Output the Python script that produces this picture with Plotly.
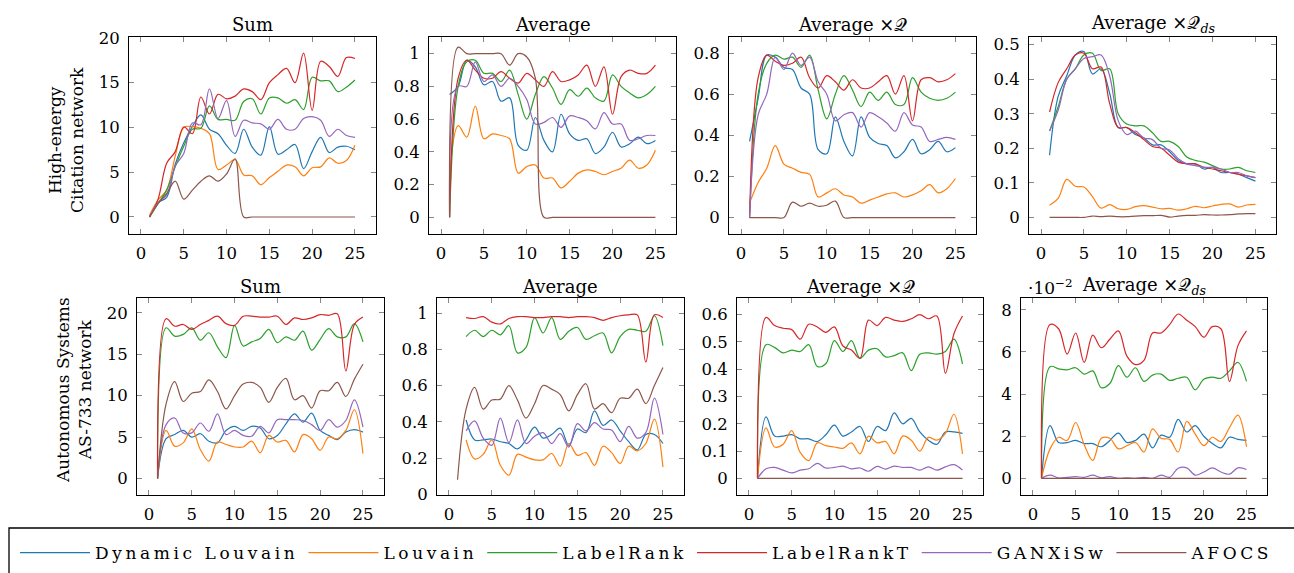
import plotly.graph_objects as go

W, H = 1294, 573
X = list(range(1, 26))
Z = [0] * 25

SERIES = ["Dynamic Louvain", "Louvain", "LabelRank", "LabelRankT", "GANXiSw", "AFOCS"]
COLORS = ["#1f77b4", "#ff7f0e", "#2ca02c", "#d62728", "#9467bd", "#8c564b"]

# ---------------- High-energy Citation network ----------------
HE_SUM_DL = [0, 1.6, 2.2, 5.9, 8.3, 10.1, 11.4, 9.8, 9.3, 8.0, 7.1, 9.8, 7.8, 6.9, 10.1, 7.0, 7.5, 8.1, 5.4, 7.3, 8.9, 7.2, 7.8, 7.9, 7.5]
HE_SUM_LV = [0.2, 1.9, 3.0, 6.8, 10.0, 10.1, 9.9, 9.3, 5.3, 5.8, 6.4, 4.7, 4.6, 3.6, 4.4, 5.1, 5.8, 5.6, 4.6, 5.5, 5.6, 6.6, 6.0, 6.3, 8.0]
HE_SUM_LR = [0, 1.5, 3.0, 5.6, 7.9, 9.8, 9.9, 12.4, 10.9, 10.9, 10.8, 12.9, 13.2, 11.5, 13.3, 13.3, 12.7, 13.1, 12.0, 15.6, 15.2, 15.2, 14.0, 14.5, 15.3]
HE_SUM_LRT = [0, 2.0, 6.0, 7.3, 10.05, 9.3, 13.4, 11.5, 13.7, 13.2, 13.5, 14.3, 14.0, 13.1, 15.0, 15.9, 16.6, 15.0, 18.3, 11.9, 17.4, 16.8, 15.7, 17.8, 17.7]
HE_SUM_GX = [0, 1.6, 2.5, 5.7, 7.1, 10.5, 10.3, 14.3, 11.0, 13.0, 9.0, 10.8, 10.5, 10.4, 9.8, 10.9, 9.8, 9.8, 11.0, 11.2, 10.8, 9.0, 9.8, 9.1, 8.9]
HE_SUM_AF = [0, 1.5, 2.6, 4.0, 2.0, 3.0, 4.0, 4.6, 4.0, 4.8, 6.5, 0, 0, 0, 0, 0, 0, 0, 0, 0, 0, 0, 0, 0, 0]

HE_AVG_DL = [0.75, 0.80, 0.96, 0.92, 0.81, 0.83, 0.71, 0.73, 0.44, 0.41, 0.61, 0.47, 0.40, 0.63, 0.51, 0.47, 0.48, 0.39, 0.43, 0.52, 0.43, 0.45, 0.49, 0.45, 0.47]
HE_AVG_LV = [0.25, 0.56, 0.49, 0.68, 0.48, 0.51, 0.50, 0.48, 0.27, 0.31, 0.32, 0.24, 0.24, 0.18, 0.22, 0.27, 0.29, 0.28, 0.26, 0.28, 0.30, 0.35, 0.30, 0.32, 0.41]
HE_AVG_LR = [0, 0.80, 0.95, 0.96, 0.88, 0.88, 0.83, 0.90, 0.75, 0.60, 0.75, 0.86, 0.79, 0.69, 0.78, 0.74, 0.79, 0.73, 0.71, 0.87, 0.80, 0.76, 0.73, 0.75, 0.80]
HE_AVG_LRT = [0, 0.85, 0.96, 0.90, 0.85, 0.85, 0.89, 0.85, 0.82, 0.88, 0.84, 0.80, 0.89, 0.83, 0.84, 0.87, 0.93, 0.80, 0.92, 0.63, 0.86, 0.90, 0.88, 0.88, 0.93]
HE_AVG_GX = [0, 0.80, 0.80, 0.95, 0.83, 0.87, 0.80, 0.85, 0.80, 0.72, 0.57, 0.58, 0.61, 0.55, 0.62, 0.61, 0.59, 0.54, 0.64, 0.57, 0.57, 0.47, 0.48, 0.50, 0.50]
HE_AVG_AF = [0, 1.04, 1.0, 1.0, 1.0, 1.0, 1.0, 0.93, 1.0, 0.98, 0.85, 0, 0, 0, 0, 0, 0, 0, 0, 0, 0, 0, 0, 0, 0]

HE_AQ_DL = [0.37, 0.58, 0.79, 0.78, 0.73, 0.72, 0.63, 0.60, 0.33, 0.31, 0.49, 0.37, 0.30, 0.49, 0.39, 0.36, 0.35, 0.29, 0.32, 0.38, 0.31, 0.33, 0.37, 0.32, 0.34]
HE_AQ_LV = [0.07, 0.17, 0.24, 0.35, 0.26, 0.24, 0.22, 0.21, 0.10, 0.12, 0.14, 0.11, 0.10, 0.07, 0.085, 0.10, 0.115, 0.12, 0.10, 0.11, 0.13, 0.16, 0.12, 0.14, 0.19]
HE_AQ_LR = [0, 0.60, 0.75, 0.79, 0.77, 0.78, 0.73, 0.79, 0.62, 0.48, 0.60, 0.69, 0.62, 0.54, 0.61, 0.57, 0.61, 0.55, 0.55, 0.68, 0.61, 0.58, 0.57, 0.58, 0.61]
HE_AQ_LRT = [0, 0.68, 0.79, 0.76, 0.74, 0.75, 0.78, 0.68, 0.63, 0.69, 0.66, 0.62, 0.67, 0.63, 0.63, 0.66, 0.69, 0.60, 0.69, 0.47, 0.67, 0.68, 0.66, 0.67, 0.70]
HE_AQ_GX = [0, 0.50, 0.60, 0.78, 0.72, 0.80, 0.74, 0.78, 0.66, 0.60, 0.47, 0.50, 0.51, 0.44, 0.51, 0.49, 0.46, 0.42, 0.51, 0.45, 0.44, 0.37, 0.38, 0.39, 0.38]
HE_AQ_AF = [0, 0, 0, 0, 0, 0.075, 0.055, 0.07, 0.055, 0.06, 0.08, 0, 0, 0, 0, 0, 0, 0, 0, 0, 0, 0, 0, 0, 0]

HE_QDS_DL = [0.18, 0.35, 0.41, 0.47, 0.48, 0.415, 0.43, 0.36, 0.26, 0.26, 0.24, 0.23, 0.21, 0.21, 0.19, 0.165, 0.155, 0.155, 0.14, 0.145, 0.13, 0.13, 0.125, 0.115, 0.105]
HE_QDS_LV = [0.035, 0.055, 0.11, 0.09, 0.088, 0.06, 0.027, 0.037, 0.025, 0.023, 0.031, 0.034, 0.03, 0.025, 0.026, 0.021, 0.025, 0.032, 0.028, 0.033, 0.038, 0.039, 0.03, 0.036, 0.038]
HE_QDS_LR = [0.25, 0.32, 0.40, 0.43, 0.47, 0.475, 0.425, 0.43, 0.30, 0.27, 0.265, 0.265, 0.245, 0.22, 0.22, 0.205, 0.175, 0.165, 0.16, 0.15, 0.14, 0.14, 0.145, 0.135, 0.13]
HE_QDS_LRT = [0.305, 0.39, 0.43, 0.47, 0.475, 0.43, 0.435, 0.33, 0.26, 0.26, 0.245, 0.225, 0.205, 0.20, 0.18, 0.16, 0.155, 0.155, 0.145, 0.14, 0.135, 0.13, 0.125, 0.12, 0.115]
HE_QDS_GX = [0.25, 0.31, 0.40, 0.43, 0.46, 0.465, 0.47, 0.41, 0.28, 0.24, 0.25, 0.23, 0.225, 0.20, 0.195, 0.17, 0.155, 0.15, 0.145, 0.145, 0.14, 0.13, 0.13, 0.12, 0.115]
HE_QDS_AF = [0, 0, 0, 0, 0, 0.004, 0.002, 0.004, 0.002, 0.002, 0.004, 0.005, 0.005, 0.006, 0.001, 0.004, 0.006, 0.006, 0.008, 0.007, 0.007, 0.008, 0.01, 0.011, 0.011]

# ---------------- Autonomous Systems AS-733 network ----------------
AS_SUM_DL = [0, 4.8, 5.3, 5.8, 5.0, 5.4, 4.5, 4.3, 5.8, 6.3, 5.8, 6.3, 6.1, 4.8, 5.2, 6.6, 7.8, 6.8, 7.9, 5.8, 5.2, 4.7, 5.6, 5.9, 5.6]
AS_SUM_LV = [0, 5.8, 3.9, 4.3, 6.0, 3.5, 2.1, 4.4, 4.1, 3.8, 3.8, 4.5, 3.1, 5.2, 4.4, 4.6, 3.2, 5.3, 4.8, 3.4, 5.0, 4.8, 5.8, 8.3, 3.0]
AS_SUM_LR = [0, 18.2, 17.2, 17.4, 18.2, 16.7, 17.6, 15.9, 14.6, 18.5, 16.0, 16.5, 16.9, 18.0, 16.4, 17.1, 16.7, 17.8, 15.5, 16.8, 18.1, 17.1, 17.1, 18.7, 16.5]
AS_SUM_LRT = [0, 19.3, 18.4, 18.6, 18.0, 18.6, 19.1, 19.6, 18.7, 18.5, 19.6, 19.6, 19.5, 19.5, 19.6, 18.6, 19.4, 19.2, 19.4, 19.8, 19.7, 19.9, 13.0, 18.6, 19.5]
AS_SUM_GX = [0, 6.5, 7.3, 5.5, 5.5, 6.7, 5.7, 7.8, 5.3, 5.8, 5.2, 5.1, 6.3, 5.5, 7.1, 7.1, 7.1, 7.0, 6.5, 5.8, 7.1, 6.2, 7.0, 9.5, 6.2]
AS_SUM_AF = [0, 9.0, 11.7, 9.3, 10.3, 10.5, 11.9, 10.5, 8.4, 10.0, 11.4, 11.6, 11.0, 9.2, 11.0, 12.1, 9.5, 10.0, 8.5, 10.6, 10.6, 11.6, 9.9, 12.0, 13.8]

AS_AVG_DL = [None, 0.41, 0.30, 0.30, 0.305, 0.29, 0.28, 0.25, 0.30, 0.37, 0.31, 0.33, 0.365, 0.27, 0.36, 0.34, 0.46, 0.38, 0.41, 0.35, 0.29, 0.245, 0.33, 0.33, 0.28]
AS_AVG_LV = [None, 0.30, 0.195, 0.22, 0.30, 0.16, 0.105, 0.22, 0.205, 0.19, 0.19, 0.225, 0.155, 0.28, 0.215, 0.23, 0.16, 0.265, 0.23, 0.17, 0.265, 0.24, 0.28, 0.415, 0.15]
AS_AVG_LR = [None, 0.87, 0.905, 0.87, 0.905, 0.88, 0.93, 0.78, 0.81, 0.975, 0.89, 0.975, 0.855, 0.90, 0.92, 0.855, 0.875, 0.89, 0.78, 0.87, 0.91, 0.905, 0.90, 0.985, 0.82]
AS_AVG_LRT = [None, 0.975, 0.97, 0.98, 0.95, 0.94, 0.97, 0.98, 0.98, 0.975, 0.975, 0.98, 0.98, 0.975, 0.98, 0.98, 0.975, 0.96, 0.975, 0.985, 0.99, 0.99, 0.73, 0.99, 0.975]
AS_AVG_GX = [None, 0.35, 0.405, 0.31, 0.27, 0.42, 0.285, 0.41, 0.28, 0.32, 0.34, 0.28, 0.335, 0.26, 0.39, 0.35, 0.395, 0.36, 0.355, 0.29, 0.375, 0.31, 0.34, 0.53, 0.33]
AS_AVG_AF = [0.08, 0.47, 0.59, 0.47, 0.52, 0.525, 0.60, 0.52, 0.42, 0.50, 0.60, 0.58, 0.55, 0.46, 0.55, 0.61, 0.47, 0.50, 0.45, 0.53, 0.53, 0.58, 0.50, 0.60, 0.70]

AS_AQ_DL = [0, 0.225, 0.155, 0.155, 0.16, 0.145, 0.145, 0.135, 0.16, 0.195, 0.155, 0.17, 0.19, 0.135, 0.19, 0.175, 0.24, 0.20, 0.22, 0.17, 0.14, 0.125, 0.17, 0.17, 0.165]
AS_AQ_LV = [0, 0.185, 0.115, 0.125, 0.175, 0.095, 0.065, 0.13, 0.12, 0.115, 0.11, 0.13, 0.09, 0.155, 0.13, 0.135, 0.09, 0.155, 0.14, 0.10, 0.15, 0.14, 0.165, 0.235, 0.09]
AS_AQ_LR = [0, 0.49, 0.48, 0.46, 0.47, 0.465, 0.49, 0.41, 0.42, 0.505, 0.465, 0.505, 0.44, 0.47, 0.475, 0.445, 0.45, 0.46, 0.395, 0.455, 0.46, 0.455, 0.465, 0.51, 0.42]
AS_AQ_LRT = [0, 0.59, 0.56, 0.55, 0.545, 0.51, 0.565, 0.555, 0.535, 0.555, 0.485, 0.47, 0.44, 0.58, 0.56, 0.59, 0.58, 0.575, 0.585, 0.60, 0.585, 0.595, 0.385, 0.53, 0.595]
AS_AQ_GX = [0, 0.035, 0.04, 0.03, 0.02, 0.03, 0.035, 0.055, 0.038, 0.04, 0.045, 0.035, 0.038, 0.026, 0.044, 0.034, 0.045, 0.04, 0.04, 0.03, 0.042, 0.03, 0.042, 0.05, 0.03]
AS_AQ_AF = Z

# values in units of 1e-2
AS_QDS_DL = [0, 2.5, 1.7, 1.7, 1.8, 1.65, 1.65, 1.5, 1.8, 2.15, 1.7, 1.8, 2.1, 1.45, 2.05, 1.95, 2.8, 2.2, 2.5, 2.0, 1.65, 1.45, 1.95, 1.85, 1.8]
AS_QDS_LV = [0, 1.4, 1.95, 1.8, 2.65, 1.6, 0.85, 1.9, 1.9, 1.4, 1.55, 1.7, 1.25, 2.35, 1.9, 1.85, 1.25, 2.7, 2.1, 1.55, 1.95, 1.75, 2.4, 3.0, 1.5]
AS_QDS_LR = [0, 5.3, 5.2, 5.15, 5.25, 4.95, 5.1, 4.3, 4.5, 5.35, 4.8, 5.25, 4.6, 4.9, 4.95, 4.65, 4.75, 4.8, 4.2, 4.7, 4.8, 4.75, 5.1, 5.5, 4.6]
AS_QDS_LRT = [0, 7.3, 7.1, 5.9, 6.9, 5.5, 6.8, 6.2, 6.6, 7.0, 5.8, 5.4, 5.6, 6.9, 6.9, 7.3, 7.8, 7.5, 7.2, 6.7, 7.2, 7.1, 4.6, 6.3, 7.0]
AS_QDS_GX = [0, 0.15, 0.02, 0.05, 0.08, 0.05, 0.15, 0.03, 0.08, 0.0, 0.02, 0.0, 0.05, 0.0, 0.15, 0.05, 0.48, 0.5, 0.15, 0.3, 0.5, 0.3, 0.2, 0.5, 0.42]
AS_QDS_AF = Z

TITLES = ["Sum", "Average", "Average ×𝒬", "Average ×𝒬<sub><i>ds</i></sub>"] * 2

# panel table: series, y-range, y-dtick, x-domain (px), y-domain (px from top)
panels = [
    ([HE_SUM_DL, HE_SUM_LV, HE_SUM_LR, HE_SUM_LRT, HE_SUM_GX, HE_SUM_AF], [-1.9, 20.1], 5, (129, 375.5), (37, 234)),
    ([HE_AVG_DL, HE_AVG_LV, HE_AVG_LR, HE_AVG_LRT, HE_AVG_GX, HE_AVG_AF], [-0.102, 1.102], 0.2, (429, 676), (37, 234)),
    ([HE_AQ_DL, HE_AQ_LV, HE_AQ_LR, HE_AQ_LRT, HE_AQ_GX, HE_AQ_AF], [-0.08, 0.878], 0.2, (729, 976), (37, 234)),
    ([HE_QDS_DL, HE_QDS_LV, HE_QDS_LR, HE_QDS_LRT, HE_QDS_GX, HE_QDS_AF], [-0.048, 0.522], 0.1, (1029, 1276), (37, 234)),
    ([AS_SUM_DL, AS_SUM_LV, AS_SUM_LR, AS_SUM_LRT, AS_SUM_GX, AS_SUM_AF], [-2.0, 21.8], 5, (137, 383.5), (298, 495)),
    ([AS_AVG_DL, AS_AVG_LV, AS_AVG_LR, AS_AVG_LRT, AS_AVG_GX, AS_AVG_AF], [-0.004, 1.083], 0.2, (437, 683.5), (298, 495)),
    ([AS_AQ_DL, AS_AQ_LV, AS_AQ_LR, AS_AQ_LRT, AS_AQ_GX, AS_AQ_AF], [-0.061, 0.661], 0.1, (737, 983), (298, 495)),
    ([AS_QDS_DL, AS_QDS_LV, AS_QDS_LR, AS_QDS_LRT, AS_QDS_GX, AS_QDS_AF], [-0.79, 8.56], 2, (1021, 1267), (298, 495)),
]

FONT = "DejaVu Serif"
fig = go.Figure()
layout = dict(
    template="none",
    width=W, height=H, autosize=False,
    margin=dict(l=0, r=0, t=0, b=0, pad=0, autoexpand=False),
    paper_bgcolor="white", plot_bgcolor="white",
    font=dict(family=FONT, size=16, color="black"),
    showlegend=True,
)
annotations = []

for i, (series, yr, dt, xd, yd) in enumerate(panels):
    n = i + 1
    xa = "x" if n == 1 else f"x{n}"
    ya = "y" if n == 1 else f"y{n}"
    for k, vals in enumerate(series):
        fig.add_trace(go.Scatter(
            x=X, y=vals, mode="lines", xaxis=xa, yaxis=ya,
            name=f'<span style="letter-spacing:3.6px">{SERIES[k]}</span>',
            legendgroup=SERIES[k], showlegend=(i == 0),
            line=dict(color=COLORS[k], width=1.2, shape="spline", smoothing=1.0),
            connectgaps=False, hoverinfo="skip",
        ))
    axcommon = dict(showline=True, linecolor="black", linewidth=1, mirror="ticks",
                    ticks="inside", ticklen=5, tickcolor="#888888", tickwidth=1,
                    showgrid=False, zeroline=False, automargin=False,
                    tickfont=dict(family=FONT, size=16.5, color="black"))
    layout["xaxis" if n == 1 else f"xaxis{n}"] = dict(
        axcommon, domain=[xd[0] / W, xd[1] / W], range=[-1.4, 27.4],
        tick0=0, dtick=5, anchor=ya, ticklabelstandoff=4)
    layout["yaxis" if n == 1 else f"yaxis{n}"] = dict(
        axcommon, domain=[1 - yd[1] / H, 1 - yd[0] / H], range=yr,
        tick0=0, dtick=dt, anchor=xa, ticklabelstandoff=5)
    ty = 24 if yd[0] < 100 else 286
    annotations.append(dict(
        text=TITLES[i], x=(xd[0] + xd[1]) / 2 / W, y=1 - ty / H, xref="paper", yref="paper",
        xanchor="center", yanchor="middle", showarrow=False, font=dict(family=FONT, size=18)))

annotations.append(dict(text="·10<sup>−2</sup>", x=1026 / W, y=1 - 287 / H, xref="paper", yref="paper",
                        xanchor="left", yanchor="middle", showarrow=False, font=dict(family=FONT, size=17)))
annotations.append(dict(text="High-energy<br>Citation network", textangle=-90, x=66 / W, y=1 - 140 / H,
                        xref="paper", yref="paper", xanchor="center", yanchor="middle", showarrow=False,
                        font=dict(family=FONT, size=17)))
annotations.append(dict(text="Autonomous Systems<br>AS-733 network", textangle=-90, x=74 / W, y=1 - 390 / H,
                        xref="paper", yref="paper", xanchor="center", yanchor="middle", showarrow=False,
                        font=dict(family=FONT, size=17)))
layout["annotations"] = annotations

layout["legend"] = dict(orientation="h", x=15 / W, xanchor="left", y=1 - 553 / H, yanchor="middle",
                        itemwidth=70, font=dict(family=FONT, size=17, color="black"),
                        bgcolor="rgba(0,0,0,0)", borderwidth=0, tracegroupgap=0)
layout["shapes"] = [dict(type="rect", xref="paper", yref="paper", x0=9 / W, x1=1.02, y0=-0.2, y1=1 - 528 / H,
                         line=dict(color="black", width=1.3), fillcolor="rgba(0,0,0,0)")]

fig.update_layout(**layout)
fig.write_html("out.html")
